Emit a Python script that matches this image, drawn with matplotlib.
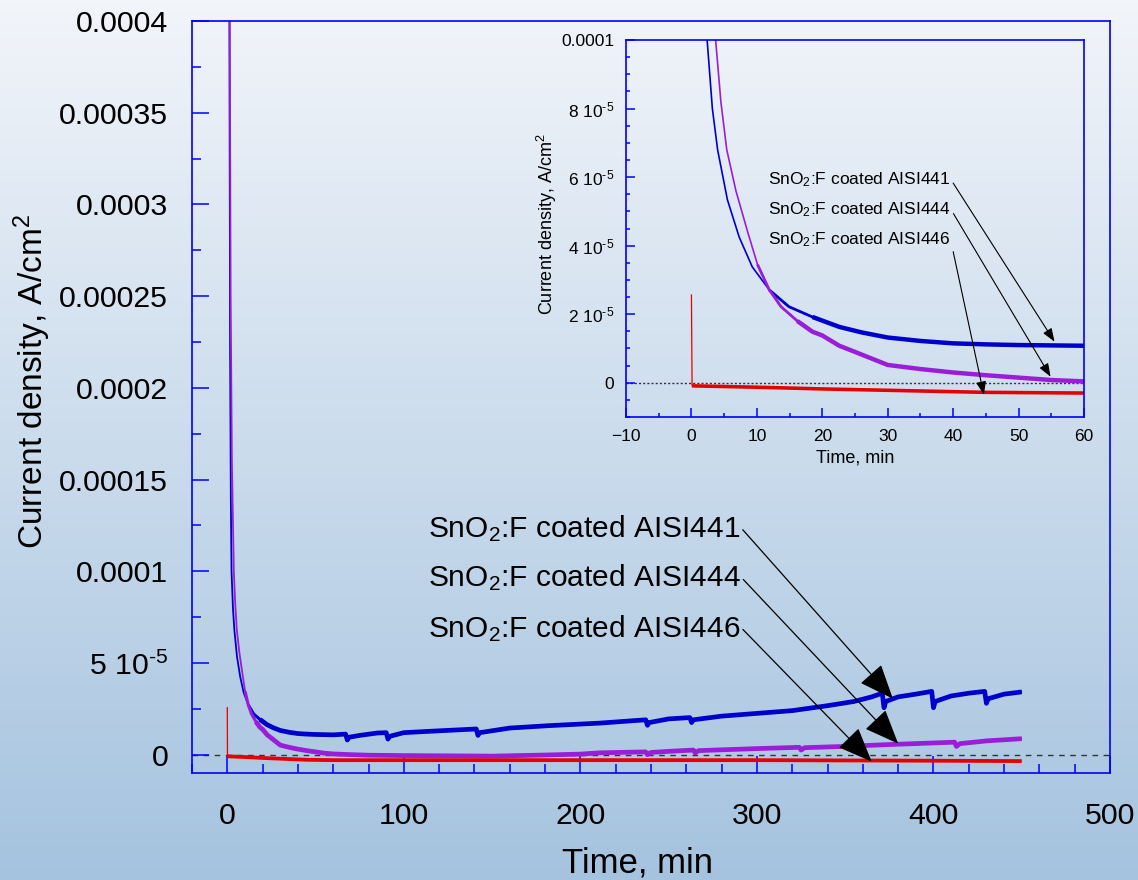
import numpy as np
import matplotlib
matplotlib.use("Agg")
import matplotlib.pyplot as plt
from matplotlib.ticker import MultipleLocator

plt.rcParams['font.family'] = ['Liberation Sans', 'DejaVu Sans']
plt.rcParams['mathtext.fontset'] = 'custom'
plt.rcParams['mathtext.rm'] = 'Liberation Sans'
plt.rcParams['mathtext.it'] = 'Liberation Sans:italic'
plt.rcParams['mathtext.bf'] = 'Liberation Sans:bold'

# --- data (time in min, current density in 1e-5 A/cm2) ---
t_441 = [0.5, 1.2, 1.6, 2.0, 2.4, 3.2, 4.0, 5.5, 7.3, 9.3, 11.9, 14.9, 18.5, 22.6,
         26, 30, 35, 40, 45, 50, 55, 60, 67, 68, 69, 75, 85, 90, 91, 92, 100, 120,
         141, 142, 143, 160, 182, 211, 237, 238, 239, 250, 262, 263, 264, 280, 300,
         320, 340, 355, 365, 371, 372, 373, 380, 390, 399, 400, 401, 410, 420, 429,
         430, 431, 440, 450]
j_441 = [100, 40, 22, 14, 10, 8.0, 6.8, 5.34, 4.25, 3.38, 2.71, 2.22, 1.92, 1.63,
         1.47, 1.32, 1.22, 1.15, 1.12, 1.10, 1.09, 1.08, 1.12, 0.8, 0.95, 1.05, 1.18, 1.2,
         0.85, 1.0, 1.2, 1.3, 1.4, 1.05, 1.2, 1.45, 1.58, 1.72, 1.9, 1.6, 1.75, 1.95,
         2.02, 1.75, 1.9, 2.1, 2.25, 2.4, 2.67, 2.9, 3.15, 3.35, 2.56, 2.9, 3.15, 3.3,
         3.45, 2.56, 2.9, 3.2, 3.35, 3.45, 2.8, 3.05, 3.3, 3.42]

t_444 = [0.5, 1.4, 1.9, 2.6, 3.7, 4.5, 5.4, 6.8, 8.6, 10.1, 11.9, 13.7, 16.2, 18.5,
         20, 22.6, 25, 30, 35, 40, 45, 50, 55, 60, 70, 80, 100, 150, 180, 200, 211,
         237, 238, 240, 250, 264, 265, 267, 300, 324, 325, 327, 350, 372, 412, 413,
         415, 430, 450]
j_444 = [100, 40, 25, 16, 10, 8.2, 6.8, 5.6, 4.4, 3.45, 2.71, 2.22, 1.8, 1.49,
         1.38, 1.08, 0.9, 0.52, 0.4, 0.3, 0.22, 0.15, 0.08, 0.04, 0.0, -0.03, -0.05,
         -0.08, -0.02, 0.03, 0.1, 0.15, 0.0, 0.12, 0.18, 0.25, 0.1, 0.22, 0.33, 0.4,
         0.25, 0.38, 0.45, 0.54, 0.68, 0.45, 0.6, 0.75, 0.87]

t_446 = [0, 0.1, 10, 20, 30, 45, 60, 100, 200, 300, 400, 450]
j_446 = [2.56, -0.09, -0.13, -0.18, -0.22, -0.28, -0.3, -0.3, -0.3, -0.3, -0.33, -0.35]

labels = ['SnO$_2$:F coated AISI441', 'SnO$_2$:F coated AISI444',
          'SnO$_2$:F coated AISI446']

HY = '\u2010'  # short hyphen used as minus in the exponents
main_yticks = [0, 5e-5, 1e-4, 1.5e-4, 2e-4, 2.5e-4, 3e-4, 3.5e-4, 4e-4]
main_yticklabels = ['0', '5 10$^{' + HY + '5}$', '0.0001', '0.00015', '0.0002',
                    '0.00025', '0.0003', '0.00035', '0.0004']
inset_yticks = [0, 2e-5, 4e-5, 6e-5, 8e-5, 1e-4]
inset_yticklabels = ['0'] + ['%d 10$^{%s5}$' % (v, HY) for v in (2, 4, 6, 8)] + ['0.0001']

c441, c444, c446 = '#0000cc', '#9a1ed8', '#e60000'

t1, j1 = np.array(t_441), np.array(j_441) * 1e-5
t2, j2 = np.array(t_444), np.array(j_444) * 1e-5
t3, j3 = np.array(t_446), np.array(j_446) * 1e-5

fig = plt.figure(figsize=(11.38, 8.8), dpi=100)

# gradient background
bg = fig.add_axes([0, 0, 1, 1], zorder=-10)
g = np.linspace(0, 1, 256)[:, None, None]
top = np.array([242, 245, 250]) / 255
bot = np.array([165, 195, 223]) / 255
img = top * (1 - g) + bot * g
bg.imshow(np.repeat(img, 2, axis=1), aspect='auto', extent=[0, 1, 0, 1])
bg.axis('off')


def draw_series(ax, widths):
    # widths: list of (start time, linewidth); the noisy band gets wider as it flattens
    for t, j, c in [(t1, j1, c441), (t2, j2, c444)]:
        for t0, lw in widths:
            k = t >= t0
            ax.plot(t[k], j[k], color=c, lw=lw, solid_capstyle='butt',
                    solid_joinstyle='round')
    ax.plot(t3[:2], j3[:2], color=c446, lw=0.9)
    ax.plot(t3[1:], j3[1:], color=c446, lw=widths[-1][1] * 0.8, solid_capstyle='butt')


def style_axes(ax, size, major_len, minor_len, pad):
    ax.set_facecolor('none')
    for s in ax.spines.values():
        s.set_color('blue')
        s.set_linewidth(1.2)
    ax.tick_params(which='both', direction='in', color='blue', width=1.1,
                   top=False, right=False, labelsize=size, labelcolor='black', pad=pad)
    ax.tick_params(which='major', length=major_len)
    ax.tick_params(which='minor', length=minor_len)


# main axes
ax = fig.add_axes([0.1687, 0.1216, 0.8067, 0.8545])
style_axes(ax, 21.8, 12, 6.5, 17)
ax.tick_params(axis='x', pad=21)
ax.set_xlim(-20, 500)
ax.set_ylim(-1e-5, 4e-4)
ax.xaxis.set_major_locator(MultipleLocator(100))
ax.xaxis.set_minor_locator(MultipleLocator(20))
ax.set_yticks(main_yticks, main_yticklabels)
ax.yaxis.set_minor_locator(MultipleLocator(2.5e-5))
ax.axhline(0, color='#333333', lw=1, ls=(0, (4, 4)), zorder=1)
draw_series(ax, [(0, 1.3), (10, 2.2), (16, 3.4)])
ax.set_xlabel('Time, min', fontsize=25)
ax.set_ylabel('Current density, A/cm$^2$', fontsize=24)
ax.xaxis.set_label_coords(0.485, -0.098)
ax.yaxis.set_label_coords(-0.151, 0.52)

main_tips = [(377, 3.05e-5), (380, 0.6e-5), (365, -0.38e-5)]
main_text = [(113.6, 1.188e-4), (113.6, 0.916e-4), (113.6, 0.643e-4)]
for lab, tip, pos in zip(labels, main_tips, main_text):
    ax.annotate(lab, xy=tip, xytext=pos, fontsize=21.5, ha='left', va='baseline',
                arrowprops=dict(arrowstyle='-|>,head_length=1.1,head_width=0.45',
                                color='black', lw=0.9, shrinkA=0, shrinkB=0,
                                relpos=(1.0, 0.55), mutation_scale=20))

# inset
ins = fig.add_axes([0.5501, 0.5261, 0.4024, 0.4284])
style_axes(ins, 12.5, 6.5, 3, 8.5)
ins.set_xlim(-10, 60)
ins.set_ylim(-1e-5, 1e-4)
ins.xaxis.set_major_locator(MultipleLocator(10))
ins.xaxis.set_minor_locator(MultipleLocator(5))
ins.set_yticks(inset_yticks, inset_yticklabels)
ins.yaxis.set_minor_locator(MultipleLocator(5e-6))
ins.axhline(0, color='#333333', lw=1, ls=(0, (1.5, 1.5)), zorder=1)
draw_series(ins, [(0, 1.2), (10, 2.0), (16, 3.2)])
ins.set_xlabel('Time, min', fontsize=13)
ins.set_ylabel('Current density, A/cm$^2$', fontsize=13)
ins.xaxis.set_label_coords(0.5, -0.085)
ins.yaxis.set_label_coords(-0.146, 0.512)

inset_tips = [(55.5, 1.2e-5), (54.9, 0.175e-5), (44.7, -0.35e-5)]
inset_text = [(11.7, 5.79e-5), (11.7, 4.91e-5), (11.7, 4.04e-5)]
for lab, tip, pos in zip(labels, inset_tips, inset_text):
    ins.annotate(lab, xy=tip, xytext=pos, fontsize=12.5, ha='left', va='baseline',
                 arrowprops=dict(arrowstyle='-|>,head_length=0.8,head_width=0.3',
                                 color='black', lw=0.8, shrinkA=0, shrinkB=0,
                                 relpos=(1.0, 0.55), mutation_scale=10))

fig.savefig('out.png', dpi=100)
